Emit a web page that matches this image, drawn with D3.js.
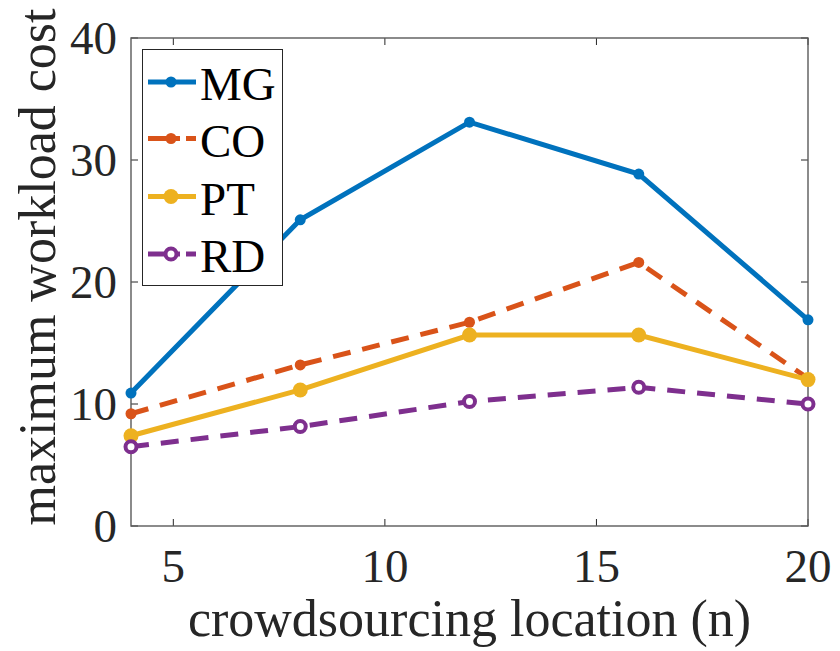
<!DOCTYPE html>
<html><head><meta charset="utf-8">
<script src="https://cdn.jsdelivr.net/npm/d3@7"></script>
<style>body{margin:0;background:#fff}svg{display:block}</style>
</head><body>
<script>
const xValues = [4, 8, 12, 16, 20];
const seriesNames = ["MG", "CO", "PT", "RD"];
const mgValues = [10.9, 25.1, 33.1, 28.85, 16.9];
const coValues = [9.2, 13.2, 16.7, 21.6, 12.1];
const ptValues = [7.4, 11.15, 15.65, 15.65, 12.0];
const rdValues = [6.5, 8.15, 10.2, 11.37, 10.0];
const xTicks = [5, 10, 15, 20];
const yTicks = [0, 10, 20, 30, 40];

const W = 840, H = 651;
const m = {l: 131, r: 32, t: 38, b: 125};
const svg = d3.select("body").append("svg").attr("width", W).attr("height", H)
  .attr("font-family", "'Liberation Serif', 'Times New Roman', Times, serif");
const x = d3.scaleLinear().domain([4, 20]).range([m.l, W - m.r]);
const y = d3.scaleLinear().domain([0, 40]).range([H - m.b, m.t]);

const fsTick = 47, fsLabel = 52, fsLeg = 47;
const txt = "#262626";
const g = svg.append("g");
xTicks.forEach(t => {
  g.append("line").attr("x1", x(t)).attr("x2", x(t)).attr("y1", y(0)).attr("y2", y(0) - 7).attr("stroke", "#262626").attr("stroke-width", 1);
  g.append("line").attr("x1", x(t)).attr("x2", x(t)).attr("y1", y(40)).attr("y2", y(40) + 7).attr("stroke", "#262626").attr("stroke-width", 1);
  g.append("text").attr("x", x(t)).attr("y", y(0) + 56).attr("text-anchor", "middle").attr("font-size", fsTick).attr("fill", txt).text(t);
});
yTicks.forEach(t => {
  g.append("line").attr("x1", x(4)).attr("x2", x(4) + 7).attr("y1", y(t)).attr("y2", y(t)).attr("stroke", "#262626").attr("stroke-width", 1);
  g.append("line").attr("x1", x(20)).attr("x2", x(20) - 7).attr("y1", y(t)).attr("y2", y(t)).attr("stroke", "#262626").attr("stroke-width", 1);
  g.append("text").attr("x", x(4) - 14).attr("y", y(t) + 16).attr("text-anchor", "end").attr("font-size", fsTick).attr("fill", txt).text(t);
});
g.append("rect").attr("x", x(4)).attr("y", y(40)).attr("width", x(20) - x(4)).attr("height", y(0) - y(40))
  .attr("fill", "none").attr("stroke", "#5a5a5a").attr("stroke-width", 1.4);

const series = [
  {name: seriesNames[0], vals: mgValues, color: "#0072BD", dash: null, r: 5.5, open: false},
  {name: seriesNames[1], vals: coValues, color: "#D95319", dash: "18,12", r: 5.5, open: false},
  {name: seriesNames[2], vals: ptValues, color: "#EDB120", dash: null, r: 7.5, open: false},
  {name: seriesNames[3], vals: rdValues, color: "#7E2F8E", dash: "18,12", r: 5.5, open: true}
];
const line = d3.line().x((d, i) => x(xValues[i])).y(d => y(d));
function marker(sel, cx, cy, s) {
  if (s.open) {
    sel.append("circle").attr("cx", cx).attr("cy", cy).attr("r", s.r).attr("fill", "#fff").attr("stroke", s.color).attr("stroke-width", 4);
  } else {
    sel.append("circle").attr("cx", cx).attr("cy", cy).attr("r", s.r).attr("fill", s.color);
  }
}
series.forEach(s => {
  svg.append("path").attr("d", line(s.vals)).attr("fill", "none").attr("stroke", s.color).attr("stroke-width", 5)
    .attr("stroke-dasharray", s.dash);
  s.vals.forEach((v, i) => marker(svg, x(xValues[i]), y(v), s));
});

const lg = svg.append("g");
lg.append("rect").attr("x", 142.5).attr("y", 49.5).attr("width", 140).attr("height", 236).attr("fill", "#fff").attr("stroke", "#262626").attr("stroke-width", 1);
const ly = [82, 138.5, 196.5, 254];
series.forEach((s, i) => {
  if (s.dash) {
    lg.append("line").attr("x1", 148).attr("x2", 180).attr("y1", ly[i]).attr("y2", ly[i]).attr("stroke", s.color).attr("stroke-width", 5);
    lg.append("line").attr("x1", 186).attr("x2", 196).attr("y1", ly[i]).attr("y2", ly[i]).attr("stroke", s.color).attr("stroke-width", 5);
  } else {
    lg.append("line").attr("x1", 148).attr("x2", 196).attr("y1", ly[i]).attr("y2", ly[i]).attr("stroke", s.color).attr("stroke-width", 5);
  }
  marker(lg, 171, ly[i], s);
  lg.append("text").attr("x", 200).attr("y", ly[i] + 18).attr("font-size", fsLeg).attr("fill", "#000").text(s.name);
});

svg.append("text").attr("x", x(12)).attr("y", 636).attr("text-anchor", "middle").attr("font-size", fsLabel).attr("fill", txt).text("crowdsourcing location (n)");
svg.append("text").attr("transform", "translate(55,267) rotate(-90)").attr("text-anchor", "middle").attr("font-size", fsLabel).attr("fill", txt).text("maximum workload cost");
</script>
</body></html>
